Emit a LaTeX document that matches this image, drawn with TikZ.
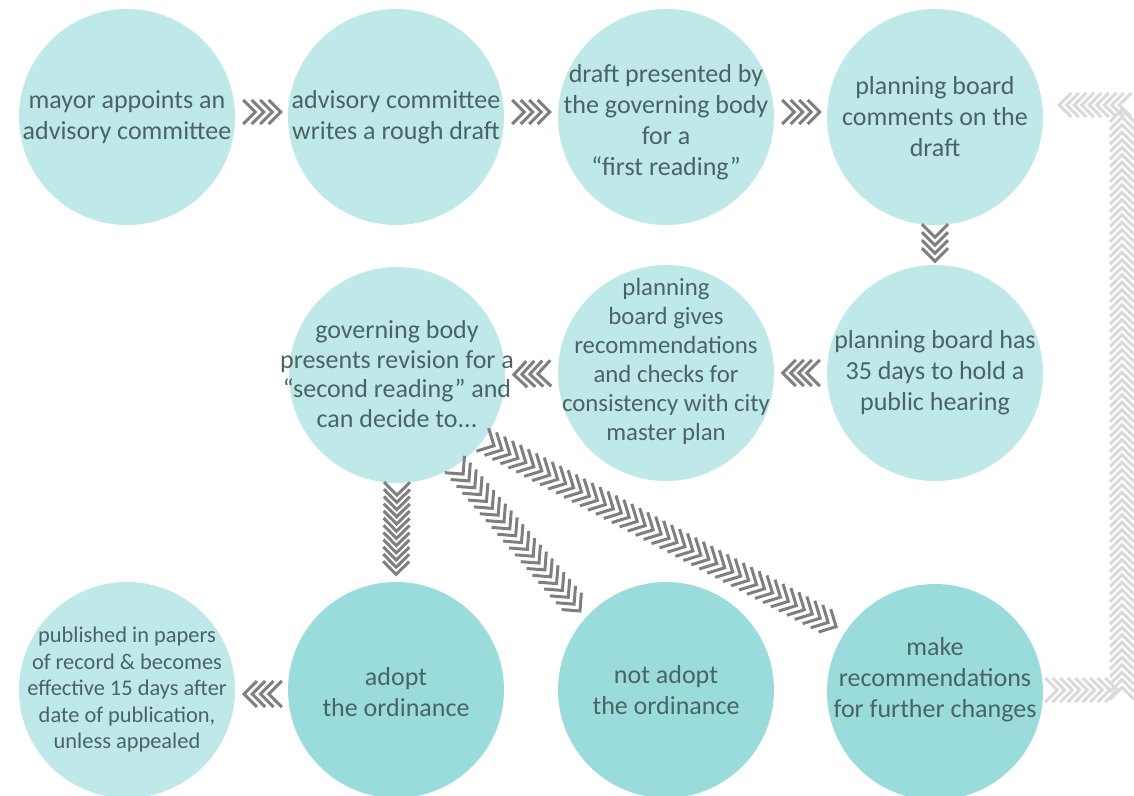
\documentclass[tikz,border=0pt]{standalone}
\usepackage{fontspec}
\setmainfont{Carlito}
\usetikzlibrary{decorations.markings}

\definecolor{bubble}{HTML}{BFE8E8}
\definecolor{bubbledark}{HTML}{9ADCDC}
\definecolor{ink}{HTML}{4A6464}
\definecolor{chevgrey}{HTML}{7F7F7F}
\definecolor{loopgrey}{HTML}{DADADA}

\tikzset{
  bub/.style={circle, fill=bubble, minimum size=216pt, inner sep=0pt},
  bubdark/.style={bub, fill=bubbledark},
  txt/.style={align=center, text=ink, font=\fontsize{26}{31}\selectfont},
  txtsmall/.style={txt, font=\fontsize{24.8}{29}\selectfont},
  txttiny/.style={txt, font=\fontsize{22.4}{26.5}\selectfont},
  chevron mark/.style={draw=chevgrey, line width=3pt},
  loop mark/.style={draw=loopgrey, line width=3pt},
  % a row of open chevrons along a path: start, end, step, stroke style, half size
  chain/.style n args={5}{decorate, decoration={markings,
      mark=between positions #1 and #2 step #3 with
        {\draw[#4] (-#5,#5) -- (0pt,0pt) -- (-#5,-#5);}}},
}

\begin{document}
\begin{tikzpicture}[x=1pt, y=-1pt]
\useasboundingbox (0,0) rectangle (1134,795);

% bubbles
\node[bub] (mayor) at (127,117) {};
\node[bub] (advis) at (396,117) {};
\node[bub] (first) at (666,117) {};
\node[bub] (pbcom) at (935,117) {};
\node[bub] (pbhear) at (935,373) {};
\node[bub] (pbrec) at (666,373) {};
\node[bub] (gov) at (397,375) {};
\node[bub] (pub) at (127,690) {};
\node[bubdark] (adopt) at (396,690) {};
\node[bubdark] (notadopt) at (666,690) {};
\node[bubdark] (make) at (935,692) {};

% bubble texts
\node[txt] (mayortext) at (127,117) {mayor appoints an\\advisory committee};
\node[txt] (advistext) at (396,117) {advisory committee\\writes a rough draft};
\node[txt] (firsttext) at (666,122) {draft presented by\\the governing body\\for a\\“first reading”};
\node[txt] (pbcomtext) at (935,117) {planning board\\comments on the\\draft};
\node[txt] (pbheartext) at (935,373) {planning board has\\35 days to hold a\\public hearing};
\node[txtsmall] (pbrectext) at (666,361) {planning\\board gives\\recommendations\\and checks for\\consistency with city\\master plan};
\node[txt, font=\fontsize{26}{29.5}\selectfont] (govtext) at (397,374) {governing body\\presents revision for a\\“second reading” and\\can decide to...};
\node[txttiny] (pubtext) at (127,690) {published in papers\\of record \& becomes\\effective 15 days after\\date of publication,\\unless appealed};
\node[txt] (adopttext) at (396,692) {adopt\\the ordinance};
\node[txt] (notadopttext) at (666,690) {not adopt\\the ordinance};
\node[txt] (maketext) at (935,680) {make\\recommendations\\for further changes};

% chevron connectors
\path[chain={20pt}{-3pt}{8.5pt}{chevron mark}{12pt}] ([yshift=5pt]mayor.east) -- ([yshift=5pt]advis.west);
\path[chain={20pt}{-3pt}{8.5pt}{chevron mark}{12pt}] ([yshift=5pt]advis.east) -- ([yshift=5pt]first.west);
\path[chain={20pt}{-3pt}{8.5pt}{chevron mark}{12pt}] ([yshift=5pt]first.east) -- ([yshift=5pt]pbcom.west);
\path[chain={12pt}{-1pt}{8pt}{chevron mark}{13pt}] (pbcom.south) -- (pbhear.north);
\path[chain={20pt}{-3pt}{8pt}{chevron mark}{13pt}] (pbhear.west) -- (pbrec.east);
\path[chain={20pt}{-3pt}{8pt}{chevron mark}{13pt}] (pbrec.west) -- (gov.east);
\path[chain={12pt}{-1pt}{7.2pt}{chevron mark}{13pt}] (gov.south) -- (adopt.north);
\path[chain={11pt}{-3pt}{9pt}{chevron mark}{13pt}] (gov.-57) -- (notadopt.138);
\path[chain={12pt}{-5pt}{9pt}{chevron mark}{13pt}] (gov.-37) -- (make.146);
\path[chain={19pt}{-2pt}{8.3pt}{chevron mark}{13pt}] ([yshift=-4pt]adopt.west) -- ([yshift=-4pt]pub.east);

% return loop back to the planning board
\coordinate (loopa) at (1122,690);
\coordinate (loopb) at (1122,105);
\path[chain={14pt}{-9pt}{7.5pt}{loop mark}{12pt}] ([yshift=2pt]make.east) -- (loopa) -- (loopb) -- (loopb -| pbcom.east);
\end{tikzpicture}
\end{document}
